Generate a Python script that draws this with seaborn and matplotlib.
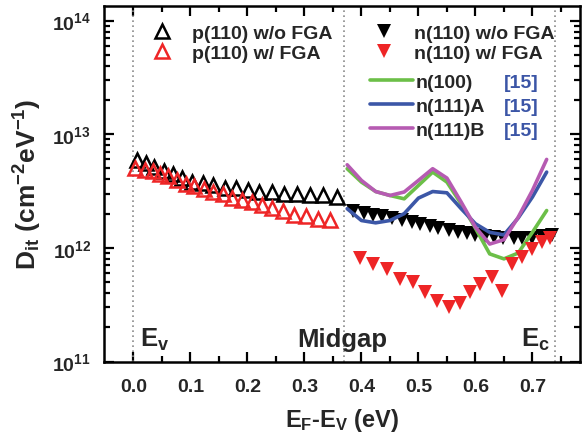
import numpy as np
import pandas as pd
import seaborn as sns
import matplotlib
matplotlib.use("Agg")
import matplotlib.pyplot as plt
from matplotlib.lines import Line2D
from matplotlib.ticker import FixedLocator, LogLocator, NullFormatter

# ---------------- data ----------------
p_wo_x = [0.007, 0.022, 0.036, 0.053, 0.069, 0.085, 0.102, 0.122, 0.140, 0.161,
          0.180, 0.201, 0.221, 0.243, 0.264, 0.287, 0.310, 0.333, 0.357]
p_wo_y = [5.96e12, 5.57e12, 5.10e12, 4.76e12, 4.46e12, 4.11e12, 3.76e12, 3.71e12, 3.59e12, 3.36e12,
          3.36e12, 3.24e12, 3.13e12, 3.10e12, 2.99e12, 2.97e12, 2.93e12, 2.89e12, 2.83e12]

p_w_x = [0.003, 0.020, 0.034, 0.047, 0.061, 0.076, 0.092, 0.106, 0.123, 0.140, 0.157,
         0.173, 0.190, 0.208, 0.225, 0.243, 0.262, 0.281, 0.303, 0.323, 0.345]
p_w_y = [5.04e12, 4.86e12, 4.70e12, 4.46e12, 4.25e12, 3.97e12, 3.64e12, 3.47e12, 3.29e12, 3.13e12, 2.97e12,
         2.77e12, 2.65e12, 2.53e12, 2.36e12, 2.24e12, 2.09e12, 1.95e12, 1.89e12, 1.80e12, 1.77e12]

n_wo_x = [0.386, 0.404, 0.421, 0.436, 0.453, 0.471, 0.488, 0.503, 0.521, 0.535, 0.553,
          0.570, 0.585, 0.599, 0.617, 0.632, 0.649, 0.667, 0.681, 0.699, 0.716, 0.734]
n_wo_y = [2.13e12, 2.03e12, 1.95e12, 1.89e12, 1.83e12, 1.75e12, 1.68e12, 1.62e12, 1.55e12, 1.50e12, 1.45e12,
          1.39e12, 1.36e12, 1.31e12, 1.27e12, 1.24e12, 1.22e12, 1.22e12, 1.22e12, 1.22e12, 1.26e12, 1.30e12]

n_w_x = [0.398, 0.421, 0.444, 0.468, 0.491, 0.512, 0.532, 0.553, 0.573, 0.591, 0.608,
         0.629, 0.646, 0.664, 0.681, 0.699, 0.716, 0.731]
n_w_y = [8.11e11, 7.22e11, 6.53e11, 5.33e11, 4.99e11, 4.08e11, 3.44e11, 3.00e11, 3.27e11, 4.08e11, 4.82e11,
         5.52e11, 4.21e11, 7.22e11, 8.28e11, 9.80e11, 1.12e12, 1.22e12]

ref_x = [0.375, 0.400, 0.425, 0.450, 0.475, 0.500, 0.525, 0.550, 0.575, 0.600,
         0.625, 0.650, 0.675, 0.700, 0.725]
n100_y = [4.97e12, 3.79e12, 3.13e12, 2.89e12, 2.70e12, 3.54e12, 4.64e12, 3.79e12, 2.44e12, 1.49e12,
          8.85e11, 8.0e11, 9.0e11, 1.37e12, 2.13e12]
n111a_y = [2.21e12, 1.74e12, 1.66e12, 1.74e12, 2.00e12, 2.74e12, 3.13e12, 3.05e12, 2.21e12, 1.63e12,
           1.37e12, 1.30e12, 1.83e12, 2.80e12, 4.64e12]
n111b_y = [5.38e12, 3.92e12, 3.13e12, 2.89e12, 3.10e12, 3.92e12, 4.97e12, 4.11e12, 2.53e12, 1.52e12,
           1.08e12, 1.18e12, 1.86e12, 3.20e12, 6.00e12]

x_ticks = [0.0, 0.1, 0.2, 0.3, 0.4, 0.5, 0.6, 0.7]
x_tick_labels = ["0.0", "0.1", "0.2", "0.3", "0.4", "0.5", "0.6", "0.7"]
y_ticks = [1e11, 1e12, 1e13, 1e14]
y_tick_labels = [r"$10^{11}$", r"$10^{12}$", r"$10^{13}$", r"$10^{14}$"]
band_lines = [0.0, 0.37, 0.74]

# ---------------- style ----------------
sns.set_style("ticks")
plt.rcParams["font.family"] = ["Liberation Sans", "DejaVu Sans"]
plt.rcParams["font.weight"] = "bold"
plt.rcParams["mathtext.fontset"] = "custom"
plt.rcParams["mathtext.rm"] = "Liberation Sans:bold"
plt.rcParams["mathtext.bf"] = "Liberation Sans:bold"
plt.rcParams["mathtext.it"] = "Liberation Sans:bold"
plt.rcParams["mathtext.sf"] = "Liberation Sans:bold"
plt.rcParams["mathtext.default"] = "regular"

GREEN = "#6cbf48"
BLUE = "#3c57a7"
MAGENTA = "#b65bb2"
RED = "#ee2526"
REFBLUE = "#3b55a6"

W, H = 582, 439
fig = plt.figure(figsize=(W / 100, H / 100), dpi=100)
L, R, T, B = 103.5, 580, 7, 362.5
ax = fig.add_axes([L / W, 1 - B / H, (R - L) / W, (B - T) / H])

for xv in band_lines:
    ax.axvline(xv, color="#8a8a8a", linestyle=(0, (1, 2)), linewidth=1.2, zorder=1)

ms = 10.5
mew = 1.8
sns.lineplot(x=p_wo_x, y=p_wo_y, ax=ax, marker="^", linestyle="", markersize=ms,
             markerfacecolor="none", markeredgecolor="black", markeredgewidth=mew,
             sort=False, estimator=None, zorder=3)
sns.lineplot(x=p_w_x, y=p_w_y, ax=ax, marker="^", linestyle="", markersize=ms,
             markerfacecolor="none", markeredgecolor=RED, markeredgewidth=mew,
             sort=False, estimator=None, zorder=3)
sns.lineplot(x=n_wo_x, y=n_wo_y, ax=ax, marker="v", linestyle="", markersize=ms,
             color="black", markeredgewidth=0, sort=False, estimator=None, zorder=3)
sns.lineplot(x=ref_x, y=n100_y, ax=ax, color=GREEN, linewidth=2.6, sort=False, estimator=None, zorder=4)
sns.lineplot(x=ref_x, y=n111a_y, ax=ax, color=BLUE, linewidth=2.6, sort=False, estimator=None, zorder=4)
sns.lineplot(x=ref_x, y=n111b_y, ax=ax, color=MAGENTA, linewidth=2.6, sort=False, estimator=None, zorder=4)
sns.lineplot(x=n_w_x, y=n_w_y, ax=ax, marker="v", linestyle="", markersize=ms,
             color=RED, markeredgewidth=0, sort=False, estimator=None, zorder=5)

ax.set_yscale("log")
ax.set_xlim(-0.0526, 0.7835)
ax.set_ylim(1e11, 10 ** 14.128)

ax.xaxis.set_major_locator(FixedLocator(x_ticks))
ax.set_xticklabels(x_tick_labels)
ax.xaxis.set_minor_locator(FixedLocator([v + 0.05 for v in x_ticks]))
ax.yaxis.set_major_locator(FixedLocator(y_ticks))
ax.set_yticklabels(y_tick_labels)
ax.yaxis.set_minor_locator(LogLocator(base=10, subs=np.arange(2, 10)))
ax.yaxis.set_minor_formatter(NullFormatter())

ax.tick_params(which="both", direction="in", top=True, right=True, width=1.6, color="black")
ax.tick_params(which="major", length=7, labelsize=14)
ax.tick_params(axis="x", which="major", pad=12)
ax.tick_params(axis="y", which="major", pad=9)
ax.tick_params(which="minor", length=4)
for lab in ax.get_xticklabels() + ax.get_yticklabels():
    lab.set_fontweight("bold")
for sp in ax.spines.values():
    sp.set_linewidth(1.8)
    sp.set_color("black")

ax.set_xlabel(r"E$_F$-E$_V$ (eV)", fontsize=17, fontweight="bold", labelpad=8)
ax.set_ylabel(r"D$_{it}$ (cm$^{-2}$eV$^{-1}$)", fontsize=19, fontweight="bold", labelpad=6)

ax.text(0.012, 1.37e11, r"E$_v$", fontsize=18.5, fontweight="bold", va="baseline")
ax.text(0.287, 1.37e11, "Midgap", fontsize=18.5, fontweight="bold", va="baseline")
ax.text(0.680, 1.37e11, r"E$_c$", fontsize=18.5, fontweight="bold", va="baseline")

# legends
fs = 14
h_p = [Line2D([], [], marker="^", linestyle="", markersize=ms, markerfacecolor="none",
              markeredgecolor="black", markeredgewidth=mew),
       Line2D([], [], marker="^", linestyle="", markersize=ms, markerfacecolor="none",
              markeredgecolor=RED, markeredgewidth=mew)]
leg1 = ax.legend(h_p, ["p(110) w/o FGA", "p(110) w/ FGA"], loc="upper left",
                 bbox_to_anchor=(150 / W, 1 - 25 / H), bbox_transform=fig.transFigure,
                 frameon=False, fontsize=fs, handlelength=1.2, handletextpad=0.95,
                 labelspacing=0.15, borderpad=0, borderaxespad=0)
ax.add_artist(leg1)

h_n = [Line2D([], [], marker="v", linestyle="", markersize=ms, color="black", markeredgewidth=0),
       Line2D([], [], marker="v", linestyle="", markersize=ms, color=RED, markeredgewidth=0)]
leg2 = ax.legend(h_n, ["n(110) w/o FGA", "n(110) w/ FGA"], loc="upper left",
                 bbox_to_anchor=(372 / W, 1 - 25 / H), bbox_transform=fig.transFigure,
                 frameon=False, fontsize=fs, handlelength=1.2, handletextpad=0.95,
                 labelspacing=0.15, borderpad=0, borderaxespad=0)
ax.add_artist(leg2)

h_l = [Line2D([], [], color=GREEN, linewidth=2.6),
       Line2D([], [], color=BLUE, linewidth=2.6),
       Line2D([], [], color=MAGENTA, linewidth=2.6)]
leg3 = ax.legend(h_l, ["n(100)", "n(111)A", "n(111)B"], loc="upper left",
                 bbox_to_anchor=(370 / W, 1 - 74 / H), bbox_transform=fig.transFigure,
                 frameon=False, fontsize=fs, handlelength=2.2, handletextpad=0.15,
                 labelspacing=0.33, borderpad=0, borderaxespad=0)

fig.canvas.draw()
renderer = fig.canvas.get_renderer()
inv = fig.transFigure.inverted()
for t in leg3.get_texts():
    bb = t.get_window_extent(renderer)
    yc = (bb.y0 + bb.y1) / 2
    fx, fy = inv.transform((0, yc))
    fig.text(504 / W, fy, "[15]", color=REFBLUE, fontsize=fs, fontweight="bold", va="center")

fig.savefig("out.png", dpi=100)
